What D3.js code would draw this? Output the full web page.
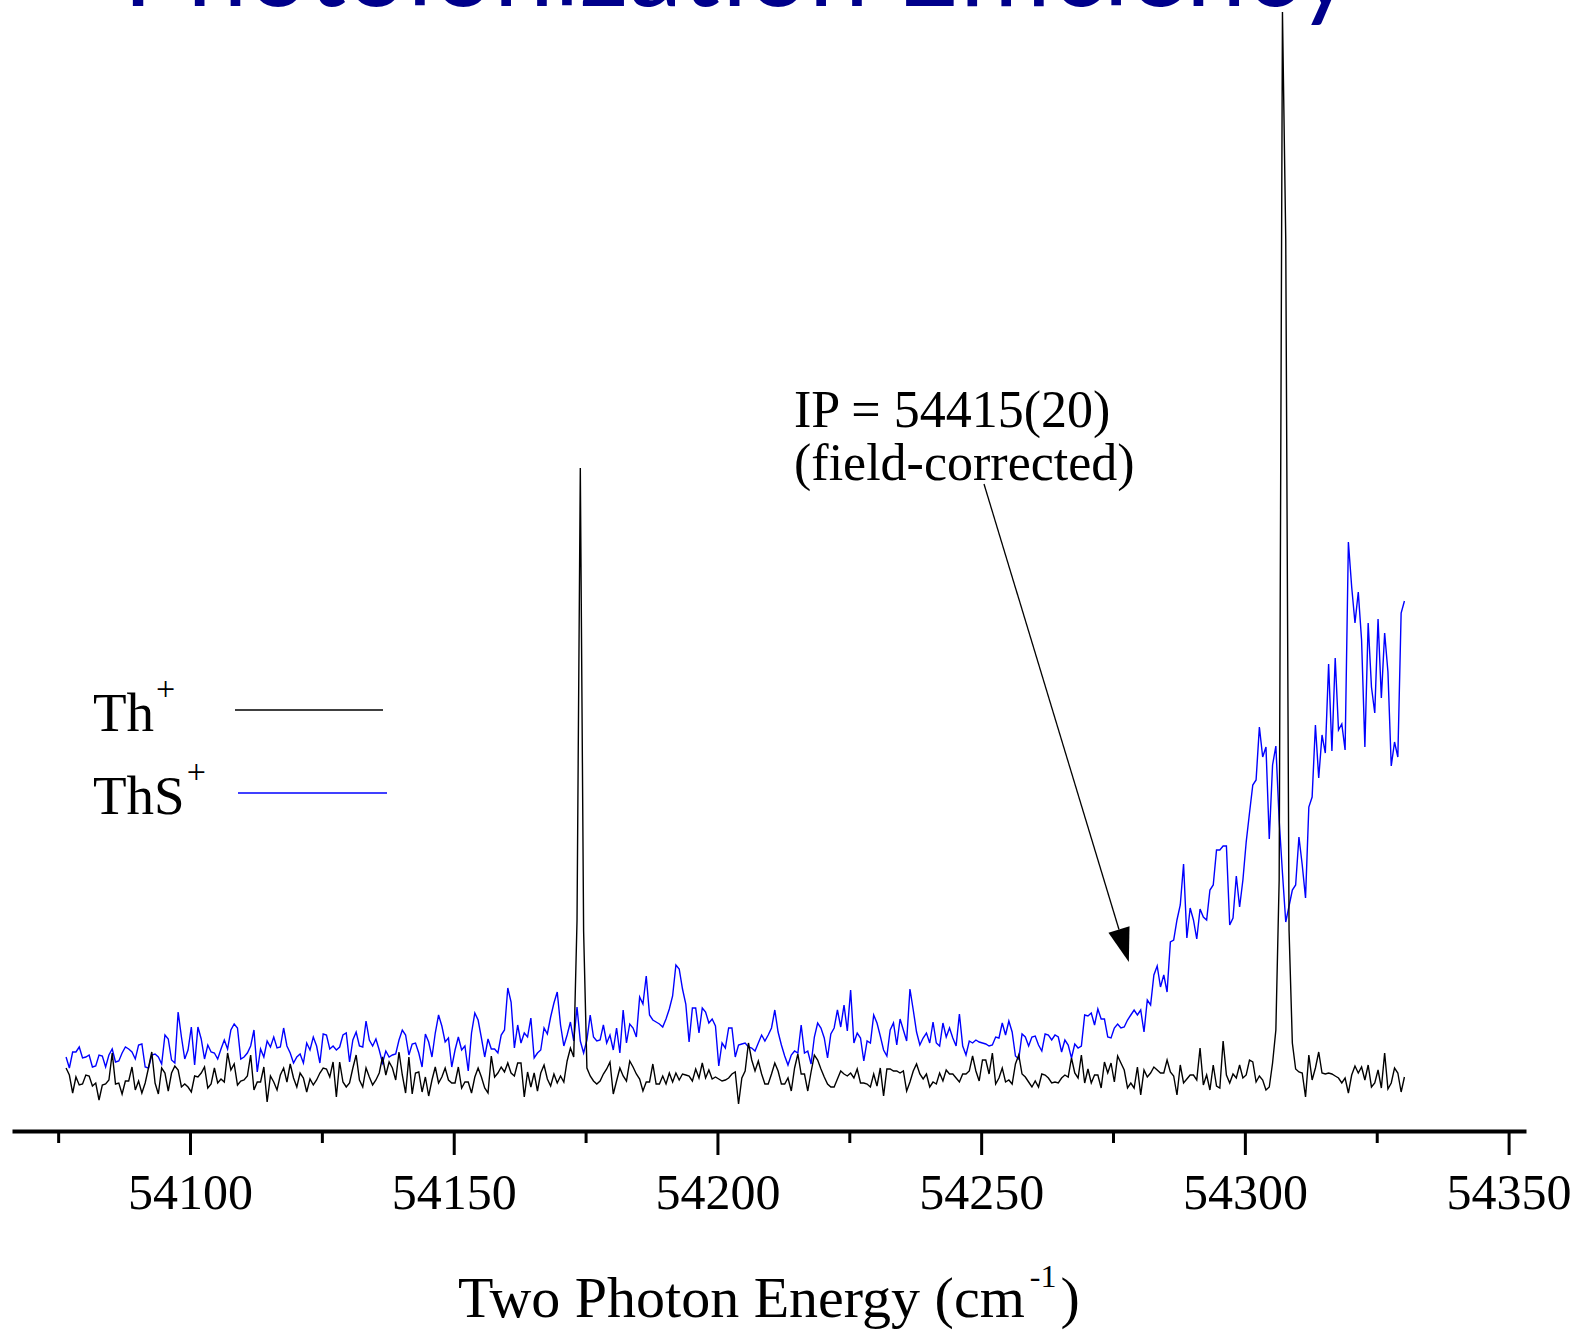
<!DOCTYPE html>
<html>
<head>
<meta charset="utf-8">
<script src="https://cdnjs.cloudflare.com/ajax/libs/d3/7.8.5/d3.min.js"></script>
<style>
  html, body { margin: 0; padding: 0; background: #fff; overflow: hidden; }
  svg { display: block; }
</style>
</head>
<body>
<script>
// Two-photon scan grid (cm^-1)
const scanStart = 54076.5;
const scanStep = 0.625;

// Th+ ion signal (arb. units), one value per scan step
const thIon = [
6.3,5.6,3.8,5.4,4.6,4.7,5.6,5.5,4.5,4.8,
3.1,4.6,4.7,5.1,7.8,4.7,4.8,3.7,5.0,5.0,
6.4,4.1,5.0,3.8,4.8,6.3,7.9,4.8,3.7,6.3,
5.8,4.0,5.8,6.5,6.1,4.4,4.7,4.4,3.9,5.5,
5.4,5.8,6.4,4.3,4.7,6.3,4.8,5.2,4.9,7.8,
6.1,6.7,4.6,5.0,5.1,5.5,7.6,4.1,4.9,4.9,
6.4,2.9,5.5,4.9,4.1,5.6,6.3,4.9,6.7,5.3,
4.4,5.8,5.3,3.9,5.2,4.6,5.1,5.8,6.3,6.2,
5.4,6.9,3.4,6.9,4.9,4.4,4.8,6.3,7.6,5.1,
4.4,6.3,5.4,4.6,5.1,5.8,7.4,5.6,6.9,6.3,
5.1,7.9,5.6,3.8,7.4,3.7,5.8,5.9,3.9,5.4,
3.5,5.1,6.4,4.8,5.4,6.3,5.1,4.8,4.8,6.4,
4.3,4.9,4.9,3.8,5.4,6.3,5.4,4.3,3.8,7.5,
5.4,5.8,6.4,5.9,6.8,5.8,5.5,6.8,6.8,3.4,
5.9,4.4,5.8,
4.0,5.8,6.6,5.2,4.5,5.7,4.8,5.5,4.9,7.0,8.3,7.4,21.0,66.3,20.0,
6.3,5.5,5.0,4.7,5.0,5.7,6.2,6.9,3.7,5.0,
6.3,5.5,5.0,7.0,6.4,5.7,5.2,4.0,4.9,4.9,
6.7,4.7,4.7,5.5,4.7,5.8,4.9,5.8,5.1,5.7,
5.6,
5.5,5.0,6.2,5.3,6.8,5.3,6.1,5.2,5.4,5.2,
5.0,5.1,5.3,5.7,5.9,2.7,5.3,6.0,8.8,7.1,
6.0,7.0,5.7,4.7,4.7,5.7,6.8,6.0,4.7,4.7,
5.3,4.0,6.3,7.7,5.7,5.7,4.0,5.9,7.6,7.1,
6.2,
5.4,4.7,4.4,4.4,5.2,6.0,5.7,5.5,5.8,5.3,
6.2,4.8,4.8,4.7,4.4,5.7,4.5,6.3,3.5,6.2,
6.2,6.0,6.0,5.8,6.0,4.0,4.9,6.0,6.7,5.7,
5.2,5.7,4.4,4.9,4.7,5.8,5.0,6.1,5.7,5.7,
5.3,
4.9,5.7,5.7,6.0,7.5,6.0,5.0,7.1,7.1,5.7,
7.8,4.7,5.3,6.3,4.9,5.1,4.7,6.7,7.6,5.7,
5.4,4.9,4.4,5.0,4.4,5.7,5.6,
5.3,4.8,4.9,4.8,5.3,5.6,5.4,7.3,5.8,5.3,7.6,4.8,6.2,4.8,5.6,5.6,4.3,6.9,5.8,6.8,
4.9,7.5,6.8,6.1,4.3,4.8,4.3,6.4,3.6,6.1,5.4,5.8,6.4,6.1,5.8,5.8,7.1,5.9,5.5,3.6,
6.6,4.8,
5.2,5.6,5.6,5.1,8.3,4.6,5.6,4.1,6.6,4.5,4.3,9.0,5.6,4.8,5.7,5.3,6.6,5.3,5.6,7.1,
6.9,4.9,5.5,5.1,4.1,4.4,6.8,10.1,
25.1,111.9,89.1,20.1,8.8,6.2,
5.9,5.8,3.4,7.6,5.1,6.3,7.9,5.8,5.7,5.8,5.7,5.5,5.3,4.8,5.3,3.8,5.6,6.5,5.8,6.4,
5.1,6.6,4.4,4.8,6.1,4.3,7.8,4.2,4.8,6.3,5.8,3.9,5.4
];

// ThS+ ion signal (arb. units), same scan grid
const thsIon = [
7.4,6.3,7.9,7.9,8.4,7.3,7.4,7.6,6.4,6.5,
7.6,7.5,6.4,7.6,8.2,6.9,7.0,7.8,8.4,8.2,
7.9,7.2,8.6,8.7,6.4,6.3,7.6,7.7,7.4,6.7,
9.6,9.2,7.1,6.8,11.9,9.4,7.2,8.1,10.4,6.6,
10.4,9.2,7.2,8.6,7.9,7.8,7.2,8.2,9.1,8.2,
10.1,10.7,10.3,7.2,7.4,7.8,8.5,10.1,5.9,8.2,
7.4,9.0,8.4,9.4,8.3,8.4,10.3,8.5,7.8,6.8,
7.4,7.7,6.8,8.8,8.1,9.4,8.5,6.8,9.7,9.6,
8.2,8.5,8.1,8.4,9.6,9.8,6.9,9.1,9.9,8.5,
8.4,11.0,9.1,8.5,9.2,8.1,6.8,8.0,7.4,7.6,
7.7,9.1,10.1,9.6,7.6,8.7,8.8,7.8,6.4,9.7,
8.9,7.4,9.8,11.6,10.5,8.9,9.3,6.4,8.1,9.4,
8.1,8.5,6.0,9.8,11.8,11.1,9.3,7.4,9.2,8.2,
8.2,7.8,9.6,10.1,14.3,12.9,8.3,10.6,8.8,9.8,
9.4,11.3,7.3,7.8,
8.1,10.3,9.7,11.4,12.8,13.9,10.6,8.5,9.6,10.9,
9.0,12.4,9.0,7.8,9.1,11.6,9.4,9.0,9.1,10.6,
8.8,9.6,8.1,10.3,7.8,12.1,8.8,10.7,10.3,9.4,
13.4,12.7,15.5,11.6,11.1,10.9,
10.7,10.4,11.2,12.2,13.5,16.6,16.2,14.2,12.7,8.9,
12.3,12.3,9.8,12.3,11.9,10.8,11.2,10.5,6.5,8.8,
8.3,10.3,10.3,7.4,8.6,8.7,8.8,8.4,8.3,8.0,
8.8,9.6,9.0,9.6,10.3,12.1,9.9,8.6,7.5,6.6,
7.6,8.0,7.8,10.6,7.8,8.0,6.7,9.4,10.8,10.3,
9.3,7.3,9.7,10.3,12.1,10.4,12.6,10.0,14.1,8.8,
9.8,9.3,7.0,9.0,8.8,11.6,10.8,9.5,8.1,7.5,
10.1,10.8,8.6,11.2,10.1,9.0,14.2,12.1,9.9,8.6,
9.3,9.8,8.8,10.9,8.8,8.5,10.8,9.4,10.3,9.3,
8.5,11.7,8.5,7.6,9.0,8.8,9.1,8.9,8.8,8.7,
8.5,8.6,9.4,9.3,10.8,9.6,11.0,9.9,7.5,7.2,
9.7,9.4,8.5,9.4,9.5,8.6,8.0,9.7,
9.6,9.1,9.6,9.4,7.9,9.1,8.6,7.3,8.7,8.3,8.5,11.6,
11.5,11.8,10.6,12.2,11.2,11.2,9.4,9.3,10.3,10.7,
10.3,10.4,11.1,11.6,12.1,11.6,12.1,9.9,13.1,12.6,
15.6,16.5,14.4,15.6,13.9,18.9,19.1,21.1,22.6,26.7,
19.3,22.3,21.1,19.2,22.2,21.4,21.1,24.1,24.6,28.1,
28.1,28.5,28.5,20.6,21.3,25.5,22.4,25.1,28.9,31.8,
34.6,35.1,40.4,37.4,38.4,29.2,36.6,38.5,31.1,25.8,
20.9,22.5,24.1,24.6,29.4,26.6,23.3,32.4,33.4,40.6,
35.3,39.6,37.8,46.7,38.0,47.3,40.1,40.7,38.1,58.9,
54.4,50.8,53.9,49.1,38.4,50.8,44.4,41.8,51.2,43.3,
49.8,45.9,36.5,38.9,37.4,51.8,53.0
];

// Axis ticks
const majorTicks = [54100, 54150, 54200, 54250, 54300, 54350];
const minorTicks = [54075, 54125, 54175, 54225, 54275, 54325];

// Legend entries and annotation text
const seriesLabels = ["Th", "ThS"];
const seriesColors = ["#000000", "#0000ff"];
const ipLines = ["IP = 54415(20)", "(field-corrected)"];
const titleText = "Photoionization Efficiency";

// Onset of ThS+ signal that the annotation arrow points to
const onsetEnergy = 54278;
const onsetSignal = 16.9;

const W = 1577, H = 1330;
const serif = "'Liberation Serif', 'Times New Roman', serif";

const svg = d3.select("body").append("svg")
  .attr("width", W).attr("height", H)
  .attr("viewBox", `0 0 ${W} ${H}`);

const x = d3.scaleLinear().domain([54066.25, 54353.3]).range([12, 1526]);
const y = d3.scaleLinear().domain([0, 112]).range([1131, 11]);

const energyAt = i => scanStart + i * scanStep;

// Title (runs off the top edge)
const title = svg.append("text")
  .attr("x", 123).attr("y", 6)
  .attr("fill", "#00008b")
  .attr("font-family", "Lato, 'Open Sans', sans-serif")
  .attr("font-size", 100)
  .text(titleText);
const tw = title.node().getComputedTextLength();
title.attr("font-size", 100 * 1230 / tw);

// Spectra
const line = d3.line()
  .x((d, i) => x(energyAt(i)))
  .y(d => y(d));

svg.append("path").datum(thsIon)
  .attr("fill", "none").attr("stroke", seriesColors[1])
  .attr("stroke-width", 1.4).attr("stroke-linejoin", "miter")
  .attr("d", line);

svg.append("path").datum(thIon)
  .attr("fill", "none").attr("stroke", seriesColors[0])
  .attr("stroke-width", 1.4).attr("stroke-linejoin", "miter")
  .attr("d", line);

// X axis: major ticks with labels
const axisG = svg.append("g").attr("transform", `translate(0,${y(0)})`);
axisG.call(d3.axisBottom(x).tickValues(majorTicks).tickSize(24).tickSizeOuter(0).tickFormat(d3.format("d")));
axisG.select(".domain").attr("stroke", "#000").attr("stroke-width", 4);
axisG.selectAll(".tick line").attr("stroke", "#000").attr("stroke-width", 3);
axisG.selectAll(".tick text")
  .attr("y", 78).attr("dy", 0)
  .attr("fill", "#000")
  .attr("font-family", serif).attr("font-size", 50);
axisG.attr("font-family", serif).attr("font-size", 50);

// X axis: minor ticks
const minorG = svg.append("g").attr("transform", `translate(0,${y(0)})`);
minorG.call(d3.axisBottom(x).tickValues(minorTicks).tickSize(12).tickSizeOuter(0).tickFormat(""));
minorG.select(".domain").remove();
minorG.selectAll(".tick line").attr("stroke", "#000").attr("stroke-width", 3);

// X axis title
const xt = svg.append("text")
  .attr("x", 458).attr("y", 1317)
  .attr("font-family", serif).attr("font-size", 58).attr("fill", "#000");
xt.append("tspan").text("Two Photon Energy (cm");
xt.append("tspan").attr("font-size", 32).attr("dy", -30).attr("dx", 5).attr("fill", "#000").text("-1");
xt.append("tspan").attr("dy", 30).attr("dx", 4).text(")");

// Legend
const legend = svg.append("g");
const legendRows = [
  { label: seriesLabels[0], color: seriesColors[0], base: 731, x1: 235, x2: 383, ly: 710 },
  { label: seriesLabels[1], color: seriesColors[1], base: 814, x1: 238, x2: 387, ly: 793 }
];
legendRows.forEach(r => {
  const t = legend.append("text")
    .attr("x", 93).attr("y", r.base)
    .attr("font-family", serif).attr("font-size", 55).attr("fill", "#000");
  t.append("tspan").text(r.label);
  t.append("tspan").attr("font-size", 34).attr("dy", -31).attr("dx", 2).text("+");
  legend.append("line")
    .attr("x1", r.x1).attr("x2", r.x2).attr("y1", r.ly).attr("y2", r.ly)
    .attr("stroke", r.color).attr("stroke-width", 1.5);
});

// Annotation
const ann = svg.append("g");
ipLines.forEach((s, k) => {
  ann.append("text")
    .attr("x", 794).attr("y", 427 + k * 53)
    .attr("font-family", serif).attr("font-size", 52).attr("fill", "#000")
    .text(s);
});

const tip = [x(onsetEnergy), y(onsetSignal)];
const tail = [984, 484];
const dxA = tip[0] - tail[0], dyA = tip[1] - tail[1];
const len = Math.hypot(dxA, dyA);
const ux = dxA / len, uy = dyA / len;
const headLen = 34, headHalf = 11;
const baseC = [tip[0] - ux * headLen, tip[1] - uy * headLen];
ann.append("line")
  .attr("x1", tail[0]).attr("y1", tail[1])
  .attr("x2", baseC[0]).attr("y2", baseC[1])
  .attr("stroke", "#000").attr("stroke-width", 1.3);
ann.append("path")
  .attr("d", `M${tip[0]},${tip[1]}L${baseC[0] - uy * headHalf},${baseC[1] + ux * headHalf}L${baseC[0] + uy * headHalf},${baseC[1] - ux * headHalf}Z`)
  .attr("fill", "#000");
</script>
</body>
</html>
